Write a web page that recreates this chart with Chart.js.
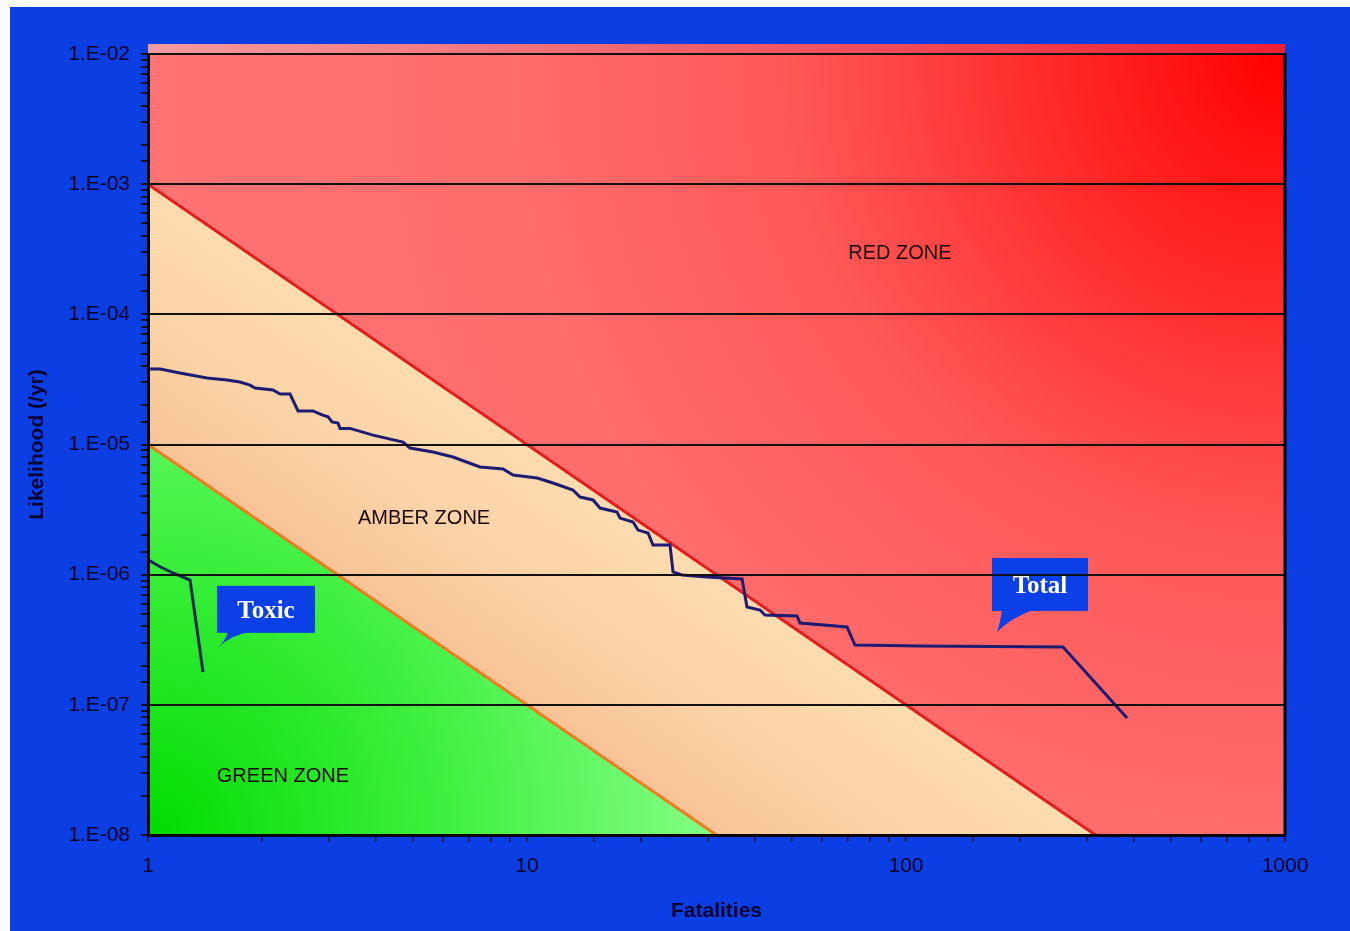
<!DOCTYPE html>
<html>
<head>
<meta charset="utf-8">
<script src="https://cdn.jsdelivr.net/npm/chart.js@4.4.0/dist/chart.umd.min.js"></script>
<style>
  html, body { margin: 0; padding: 0; background: #ffffff; }
  #wrap { position: absolute; left: 10px; top: 7px; width: 1340px; height: 924px; background: #0b3fe3; }
  canvas { display: block; }
</style>
</head>
<body>
<div id="wrap"><canvas id="fn" width="1340" height="924"></canvas></div>
<script>
// F-N curve: cumulative likelihood (/yr) of N or more fatalities
const fatalitiesTotal = [1, 1.076, 1.214, 1.431, 1.616, 1.748, 1.858, 1.916, 2.137, 2.230,
  2.370, 2.488, 2.725, 2.879, 2.986, 3.059, 3.172, 3.212, 3.412, 3.924,
  4.708, 4.913, 5.649, 6.379, 7.516, 8.647, 9.186, 10.63, 11.71, 13.22,
  13.80, 14.94, 15.58, 17.28, 17.60, 19.05, 19.63, 20.86, 21.50, 23.84,
  24.28, 25.64, 29.85, 36.93, 38.06, 41.19, 42.46, 51.58, 52.53, 69.89,
  73.37, 108.9, 259.6, 383.0];
const likelihoodTotal = [3.80e-5, 3.80e-5, 3.54e-5, 3.24e-5, 3.13e-5, 3.02e-5, 2.86e-5, 2.72e-5, 2.62e-5, 2.44e-5,
  2.44e-5, 1.81e-5, 1.81e-5, 1.69e-5, 1.63e-5, 1.49e-5, 1.46e-5, 1.33e-5, 1.33e-5, 1.18e-5,
  1.045e-5, 9.40e-6, 8.76e-6, 8.02e-6, 6.72e-6, 6.48e-6, 5.83e-6, 5.53e-6, 5.06e-6, 4.47e-6,
  3.95e-6, 3.75e-6, 3.25e-6, 3.03e-6, 2.72e-6, 2.54e-6, 2.20e-6, 2.09e-6, 1.69e-6, 1.69e-6,
  1.05e-6, 9.94e-7, 9.60e-7, 9.26e-7, 5.64e-7, 5.35e-7, 4.90e-7, 4.81e-7, 4.25e-7, 3.96e-7,
  2.88e-7, 2.83e-7, 2.78e-7, 7.93e-8];

const fatalitiesToxic = [1, 1.076, 1.164, 1.291, 1.397];
const likelihoodToxic = [1.30e-6, 1.15e-6, 1.03e-6, 9.1e-7, 1.79e-7];

// Criterion lines (F = C / N^2)
const upperLimitN = [1, 316.2];
const upperLimitF = [1e-3, 1e-8];
const lowerLimitN = [1, 31.62];
const lowerLimitF = [1e-5, 1e-8];
const chartTopN = [1, 1000];
const chartTopF = [1e-2, 1e-2];

const xTickLabels = ['1', '10', '100', '1000'];
const yTickLabels = ['1.E-08', '1.E-07', '1.E-06', '1.E-05', '1.E-04', '1.E-03', '1.E-02'];

const zoneNames = ['RED ZONE', 'AMBER ZONE', 'GREEN ZONE'];
const zoneN = [96.4, 5.35, 2.27];
const zoneF = [2.96e-4, 2.72e-6, 2.84e-8];

const calloutNames = ['Toxic', 'Total'];
const calloutN = [1.53, 173.8];
const calloutF = [2.74e-7, 3.63e-7];

const pts = (xs, ys) => xs.map((x, i) => ({ x: x, y: ys[i] }));
const isDecade = (v) => Math.abs(Math.log10(v) - Math.round(Math.log10(v))) < 1e-6;

Chart.defaults.font.family = "'Liberation Sans', Arial, sans-serif";

function redFill(ctx) {
  const a = ctx.chart.chartArea;
  if (!a) return '#ff6060';
  const g = ctx.chart.ctx.createRadialGradient(a.right, a.top, 0, a.right, a.top, (a.right - a.left) * 1.05);
  g.addColorStop(0, '#ff0000');
  g.addColorStop(0.18, '#ff2626');
  g.addColorStop(0.42, '#ff5858');
  g.addColorStop(0.65, '#ff6c6c');
  g.addColorStop(1, '#ff7474');
  return g;
}
function amberFill(ctx) {
  const c = ctx.chart, a = c.chartArea;
  if (!a) return '#fbd3a4';
  const xs = c.scales.x, ys = c.scales.y;
  // gradient runs across the band, from the lower criterion line to the upper one
  const x0 = xs.getPixelForValue(3.162), y0 = ys.getPixelForValue(1e-6);
  const x1 = xs.getPixelForValue(3.162), y1 = ys.getPixelForValue(1e-4);
  const dx = x1 - x0, dy = y1 - y0;
  const lx = xs.getPixelForValue(10) - xs.getPixelForValue(3.162);
  const ly = ys.getPixelForValue(1e-7) - ys.getPixelForValue(1e-6);
  const len = Math.hypot(lx, ly);
  const nx = ly / len, ny = -lx / len;
  const d = dx * nx + dy * ny;
  const g = c.ctx.createLinearGradient(x0, y0, x0 + nx * d, y0 + ny * d);
  g.addColorStop(0, '#f7c396');
  g.addColorStop(0.4, '#fad1a4');
  g.addColorStop(1, '#fddcb0');
  return g;
}
function greenFill(ctx) {
  const a = ctx.chart.chartArea;
  if (!a) return '#40f040';
  const g = ctx.chart.ctx.createRadialGradient(a.left, a.bottom, 0, a.left, a.bottom, 600);
  g.addColorStop(0, '#00dc00');
  g.addColorStop(0.5, '#40f040');
  g.addColorStop(1, '#8cff8c');
  return g;
}

// plot frame: pale strip above the top decade line and the right-hand border
const framePlugin = {
  id: 'frame',
  beforeDatasetsDraw(chart) {
    const { ctx, chartArea: a } = chart;
    ctx.save();
    const g = ctx.createLinearGradient(a.left, 0, a.right, 0);
    g.addColorStop(0, '#f49a9e');
    g.addColorStop(1, '#f02030');
    ctx.fillStyle = g;
    ctx.fillRect(a.left, a.top - 10, a.right - a.left, 10);
    ctx.restore();
  },
  afterDraw(chart) {
    const { ctx, chartArea: a } = chart;
    ctx.save();
    ctx.strokeStyle = '#000000';
    ctx.lineWidth = 3;
    ctx.beginPath();
    ctx.moveTo(a.right, a.top - 1);
    ctx.lineTo(a.right, a.bottom + 1);
    ctx.stroke();
    ctx.restore();
  }
};

// zone names and speech-bubble callouts
const notesPlugin = {
  id: 'notes',
  afterDatasetsDraw(chart) {
    const { ctx } = chart;
    const xs = chart.scales.x, ys = chart.scales.y;
    ctx.save();
    ctx.font = "20px 'Liberation Sans', Arial, sans-serif";
    ctx.fillStyle = '#1a0808';
    ctx.textAlign = 'center';
    ctx.textBaseline = 'middle';
    zoneNames.forEach((t, i) => {
      ctx.fillText(t, xs.getPixelForValue(zoneN[i]), ys.getPixelForValue(zoneF[i]));
    });

    const geom = [
      { dx: -1, dy: -62, w: 98, h: 47, t0: 10, t1: 35 },
      { dx: -5, dy: -74, w: 96, h: 53, t0: 5, t1: 36 }
    ];
    calloutNames.forEach((t, i) => {
      const px = xs.getPixelForValue(calloutN[i]);
      const py = ys.getPixelForValue(calloutF[i]);
      const g = geom[i];
      const bx = px + g.dx, by = py + g.dy;
      ctx.fillStyle = '#0b40e6';
      ctx.fillRect(bx, by, g.w, g.h);
      ctx.beginPath();
      ctx.moveTo(px + g.t0, by + g.h - 1);
      ctx.quadraticCurveTo(px + g.t0 - 2, py - 8, px, py);
      ctx.quadraticCurveTo(px + 14, py - 14, px + g.t1, by + g.h - 1);
      ctx.closePath();
      ctx.fill();
      ctx.fillStyle = '#ffffff';
      ctx.font = "bold 25px 'Liberation Serif', 'Times New Roman', serif";
      ctx.textAlign = 'center';
      ctx.textBaseline = 'middle';
      ctx.fillText(t, bx + g.w / 2, by + g.h / 2 + 2);
    });
    ctx.restore();
  }
};

new Chart(document.getElementById('fn'), {
  type: 'line',
  data: {
    datasets: [
      { label: 'Total', data: pts(fatalitiesTotal, likelihoodTotal), borderColor: '#1e1b72', borderWidth: 3,
        pointRadius: 0, tension: 0, fill: false },
      { label: 'Toxic', data: pts(fatalitiesToxic, likelihoodToxic), borderColor: '#142a52', borderWidth: 3,
        pointRadius: 0, tension: 0, fill: false },
      { label: 'Green zone', data: pts(lowerLimitN, lowerLimitF), borderColor: '#f07a22', borderWidth: 3,
        backgroundColor: greenFill, pointRadius: 0, fill: 'start' },
      { label: 'Amber zone', data: pts(upperLimitN, upperLimitF), borderColor: '#e51c1c', borderWidth: 3,
        backgroundColor: amberFill, pointRadius: 0, fill: 'start' },
      { label: 'Red zone', data: pts(chartTopN, chartTopF), borderColor: 'rgba(0,0,0,0)', borderWidth: 0,
        backgroundColor: redFill, pointRadius: 0, fill: 'start' }
    ]
  },
  options: {
    responsive: false,
    animation: false,
    devicePixelRatio: 1,
    layout: { padding: { top: 47, right: 65, left: 0, bottom: 0 } },
    plugins: { legend: { display: false }, tooltip: { enabled: false } },
    scales: {
      x: {
        type: 'logarithmic', min: 1, max: 1000,
        grid: { drawOnChartArea: false, tickLength: 7, tickColor: '#101030', lineWidth: 1.5 },
        border: { display: true, color: '#000000', width: 3, z: 2 },
        ticks: {
          autoSkip: false, maxRotation: 0, padding: 12, color: '#000020',
          font: { size: 21 },
          callback: (v) => isDecade(v) ? xTickLabels[Math.round(Math.log10(v))] : ''
        },
        title: { display: true, text: 'Fatalities', color: '#000030',
          font: { size: 21, weight: 'bold' }, padding: { top: 4, bottom: 7 } },
        afterFit: (s) => { s.height = 96; }
      },
      y: {
        type: 'logarithmic', min: 1e-8, max: 1e-2,
        grid: {
          z: 1,
          color: (c) => (c.tick && isDecade(c.tick.value)) ? '#111111' : 'rgba(0,0,0,0)',
          lineWidth: 2, tickLength: 7, tickColor: '#101030'
        },
        border: { display: true, color: '#000000', width: 3, z: 2 },
        ticks: {
          autoSkip: false, padding: 11, color: '#000020',
          font: { size: 21 },
          callback: (v) => isDecade(v) ? yTickLabels[Math.round(Math.log10(v)) + 8] : ''
        },
        title: { display: true, text: 'Likelihood (/yr)', color: '#000030',
          font: { size: 21, weight: 'bold' }, padding: { top: 15, bottom: 0 } },
        afterFit: (s) => { s.width = 138; }
      }
    }
  },
  plugins: [framePlugin, notesPlugin]
});
</script>
</body>
</html>
